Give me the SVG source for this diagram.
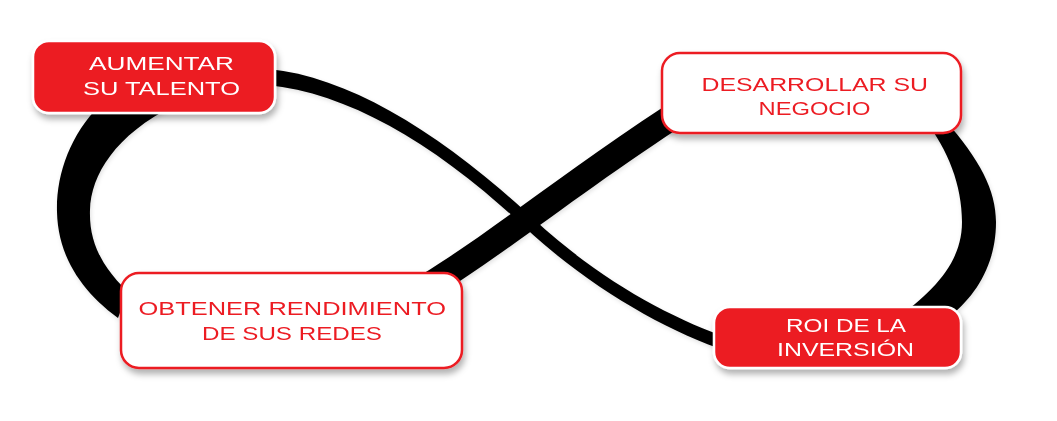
<svg xmlns="http://www.w3.org/2000/svg" width="1057" height="421" viewBox="0 0 1057 421">
<defs>
<filter id="sh" x="-10%" y="-20%" width="125%" height="150%">
<feDropShadow dx="2" dy="5" stdDeviation="3" flood-color="#000" flood-opacity="0.3"/>
</filter>
<filter id="soft" x="-5%" y="-5%" width="110%" height="110%">
<feDropShadow dx="1" dy="2" stdDeviation="2" flood-color="#000" flood-opacity="0.12"/>
</filter>
<style>
.red{fill:#ec1c24;stroke:#fff;stroke-width:2.5}
.wht{fill:#fff;stroke:#ec1c24;stroke-width:2.5}
.t{font-family:"Liberation Sans",Arial,sans-serif;font-size:18.5px}
.tw{fill:#fff}
.tr{fill:#ec1c24}
.band{fill:#000}
</style>
</defs>
<rect width="1057" height="421" fill="#fff"/>
<g id="connectors" filter="url(#soft)">
<path class="band" d="M100,105 C70,135 56,175 57,212 C58,255 80,290 118,318 L128,292 C100,265 89,240 90,210 C91,175 115,135 175,105 Z"/>
<path class="band" d="M945,120 C980,160 996,190 996,222 C996,262 978,292 955,312 L905,312 C940,285 962,258 962,222 C962,185 948,150 925,120 Z"/>
<path class="band" d="M393.9,290.5 C468.9,250.5 552.9,179.1 664.9,106.1 L679.1,127.9 C567.1,200.9 481.1,273.5 406.1,313.5 Z"/>
<path class="band" d="M268.8,69 C350.8,77 444.1,135.6 532.1,217.6 C594.1,275.6 662.2,313.9 722.2,335.9 L717.8,348.1 C657.8,326.1 585.9,284.4 523.9,226.4 C435.9,144.4 349.2,93 267.2,85 Z"/>
</g>
<g id="node-aumentar" filter="url(#sh)">
<rect class="red" x="33" y="41" width="242" height="72" rx="16"/>
<text class="t tw" x="89" y="70" textLength="145" lengthAdjust="spacingAndGlyphs">AUMENTAR</text>
<text class="t tw" x="83" y="94.5" textLength="157" lengthAdjust="spacingAndGlyphs">SU TALENTO</text>
</g>
<g id="node-obtener" filter="url(#sh)">
<rect class="wht" x="121" y="273" width="341" height="95" rx="18"/>
<text class="t tr" x="138.5" y="315" textLength="307.5" lengthAdjust="spacingAndGlyphs">OBTENER RENDIMIENTO</text>
<text class="t tr" x="202" y="339.5" textLength="180" lengthAdjust="spacingAndGlyphs">DE SUS REDES</text>
</g>
<g id="node-desarrollar" filter="url(#sh)">
<rect class="wht" x="662" y="53" width="299" height="80" rx="18"/>
<text class="t tr" x="701.5" y="90.5" textLength="226.5" lengthAdjust="spacingAndGlyphs">DESARROLLAR SU</text>
<text class="t tr" x="758.5" y="115" textLength="112" lengthAdjust="spacingAndGlyphs">NEGOCIO</text>
</g>
<g id="node-roi" filter="url(#sh)">
<rect class="red" x="714" y="307" width="247" height="61" rx="16"/>
<text class="t tw" x="786" y="332" textLength="120" lengthAdjust="spacingAndGlyphs">ROI DE LA</text>
<text class="t tw" x="777" y="356" textLength="137" lengthAdjust="spacingAndGlyphs">INVERSIÓN</text>
</g>
</svg>
